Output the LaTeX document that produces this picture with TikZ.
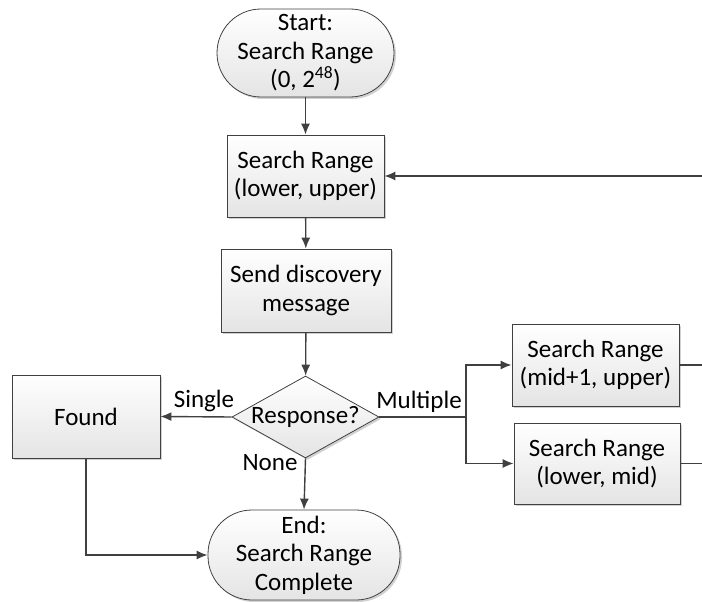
\documentclass[tikz,border=0pt]{standalone}
\usepackage{fontspec}
\setmainfont{Carlito}
\usetikzlibrary{arrows.meta,shadows,shapes.geometric}
\definecolor{linegray}{HTML}{404040}
\definecolor{boxgray}{HTML}{E4E4E4}
\tikzset{
  every node/.style={font=\fontsize{25}{28.5}\selectfont, text=black},
  base/.style={draw=linegray, line width=0.8pt, align=center,
    top color=white, bottom color=boxgray,
    drop shadow={shadow xshift=2pt, shadow yshift=-2pt, fill=gray!45, opacity=0.8}},
  procbox/.style={base, rectangle, inner sep=0pt},
  terminal/.style={base, rectangle, rounded corners=44pt, inner sep=0pt},
  decision/.style={base, diamond, aspect=1.8, inner sep=0pt},
  conn/.style={draw=linegray, line width=1.4pt, -{Latex[length=11pt,width=9pt]}},
  plain/.style={draw=linegray, line width=1.4pt},
  lbl/.style={inner sep=0pt}
}
\begin{document}
\begin{tikzpicture}[x=1pt,y=-1pt]
\useasboundingbox (0,0) rectangle (702,602);
\begin{scope}
\clip (0,0) rectangle (702,602);
% main column
\node[terminal, minimum width=177pt, minimum height=88pt] (start) at (305.5,53)
  {Start:\\Search Range\\(0, 2\textsuperscript{48})};
\node[procbox, minimum width=157pt, minimum height=82pt] (range) at (305.5,176)
  {Search Range\\(lower, upper)};
\node[procbox, minimum width=170pt, minimum height=83pt] (send) at (306,290.5)
  {Send discovery\\message};
\node[decision, minimum width=147pt, minimum height=82pt] (resp) at (305.5,417)
  {Response?};
\node[procbox, minimum width=148pt, minimum height=83pt] (found) at (86,416.5)
  {Found};
\node[terminal, minimum width=192pt, minimum height=90pt] (end) at (304,555)
  {End:\\Search Range\\Complete};
% split branches
\node[procbox, minimum width=167pt, minimum height=82pt] (upperhalf) at (595.5,365)
  {Search Range\\(mid+1, upper)};
\node[procbox, minimum width=166pt, minimum height=81pt] (lowerhalf) at (597,463.5)
  {Search Range\\(lower, mid)};
\coordinate (split) at (466,417);
\coordinate (loopin) at (702,176);
\coordinate (outA) at (702,365);
\coordinate (outB) at (702,463.5);
% connectors
\draw[conn] (start) -- (range);
\draw[conn] (range) -- (send);
\draw[conn] (send) -- (resp);
\draw[conn] (resp.west) -- (found.east);
\draw[conn] (resp.south) -- (end.north);
\draw[conn] (found.south) |- (end.west);
\draw[plain] (resp.east) -- (split);
\draw[conn] (split) |- (upperhalf.west);
\draw[conn] (split) |- (lowerhalf.west);
\draw[plain] (upperhalf.east) -- (outA);
\draw[plain] (lowerhalf.east) -- (outB);
\draw[conn] (loopin) -- (range.east |- loopin);
% branch labels
\node[lbl] (single) at (204,401) {Single};
\node[lbl] (multiple) at (419,402) {Multiple};
\node[lbl] (none) at (270,463) {None};
\end{scope}
\end{tikzpicture}
\end{document}
